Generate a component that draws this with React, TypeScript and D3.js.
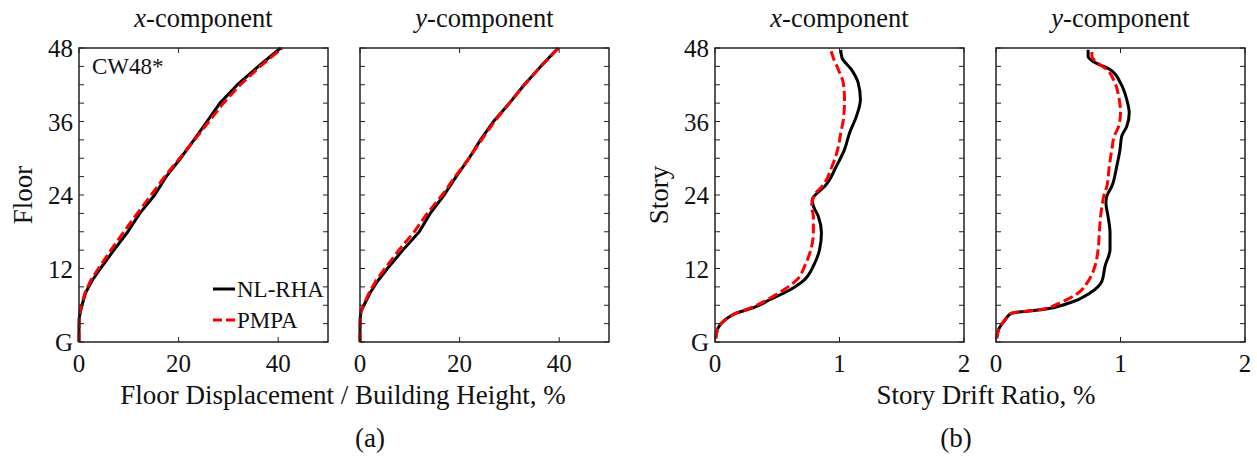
import * as d3 from 'd3';

// (a) floor displacement / building height, %
const floorsDispX = [0, 2, 4, 5, 6, 8, 10, 12, 15, 18, 21, 24, 27, 30, 33, 36, 39, 42, 45, 48];
const dispX_nlrha = [0, 0, 0.05, 0.3, 0.6, 1.3, 2.6, 4.3, 7.0, 9.8, 12.2, 15.2, 17.5, 20.4, 23.1, 25.7, 28.3, 31.8, 36.0, 40.5];
const dispX_pmpa = [0, 0, 0.05, 0.2, 0.5, 1.2, 2.3, 3.9, 6.4, 9.0, 11.7, 14.5, 17.2, 20.2, 23.2, 26.1, 29.0, 32.4, 36.4, 40.8];

const floorsDispY = [0, 2, 4, 5, 6, 8, 10, 12, 15, 18, 21, 24, 27, 30, 33, 36, 39, 42, 45, 48];
const dispY_nlrha = [0, 0, 0.05, 0.2, 0.8, 2.0, 3.6, 5.5, 8.6, 11.9, 14.1, 16.9, 19.3, 21.9, 24.2, 26.8, 30.0, 33.0, 36.3, 39.8];
const dispY_pmpa = [0, 0, 0.05, 0.2, 0.7, 1.8, 3.2, 5.0, 7.8, 10.9, 13.5, 16.5, 19.1, 21.9, 24.4, 27.0, 30.0, 33.0, 36.3, 39.9];

// (b) story drift ratio, %
const storiesDriftX = [0.6, 2.3, 3.6, 4.7, 5.6, 6.9, 8.5, 10.2, 12.4, 15.1, 17.8, 20.5, 22.2, 23.2, 24.1, 25.4, 28.7, 31.4, 34.1, 36.8, 39.6, 42.3, 44.5, 46.4, 47.7];
const driftX_nlrha = [0.006, 0.025, 0.08, 0.17, 0.31, 0.44, 0.6, 0.72, 0.79, 0.84, 0.855, 0.83, 0.79, 0.78, 0.81, 0.88, 0.975, 1.04, 1.08, 1.135, 1.168, 1.15, 1.095, 1.02, 1.01];
const driftX_pmpa = [0.006, 0.025, 0.08, 0.17, 0.29, 0.42, 0.55, 0.66, 0.72, 0.77, 0.79, 0.79, 0.775, 0.785, 0.8, 0.86, 0.94, 0.985, 1.01, 1.034, 1.04, 1.03, 0.99, 0.95, 0.93];

const storiesDriftY = [0.6, 2.3, 3.6, 4.7, 5.3, 6.4, 8.0, 9.9, 12.4, 15.1, 17.8, 20.5, 22.7, 23.8, 25.4, 28.7, 31.4, 33.6, 35.2, 37.4, 39.6, 42.3, 44.5, 45.8, 46.6, 47.7];
const driftY_nlrha = [0.005, 0.027, 0.072, 0.126, 0.38, 0.594, 0.755, 0.85, 0.876, 0.916, 0.916, 0.9, 0.883, 0.89, 0.93, 0.97, 0.996, 1.01, 1.05, 1.07, 1.05, 1.0, 0.916, 0.78, 0.74, 0.74];
const driftY_pmpa = [0.005, 0.027, 0.072, 0.126, 0.36, 0.514, 0.66, 0.74, 0.795, 0.82, 0.83, 0.84, 0.855, 0.865, 0.89, 0.91, 0.93, 0.95, 0.985, 1.0, 0.99, 0.955, 0.89, 0.8, 0.77, 0.77];

const yTickValues = [0, 12, 24, 36, 48];
const yTickLabels = ['G', '12', '24', '36', '48'];
const dispTicks = [0, 20, 40];
const driftTicks = [0, 1, 2];
const seriesNames = ['NL-RHA', 'PMPA'];

const FONT = '"Liberation Serif", "Times New Roman", serif';
const TOP = 48;
const PW = 249;
const PH = 294;

type Series = { levels: number[]; values: number[]; dashed: boolean };
type PanelDef = {
  left: number;
  xMax: number;
  xTicks: number[];
  comp: string;
  yLabel?: string;
  series: Series[];
  curve: d3.CurveFactory;
};

const panels: PanelDef[] = [
  {
    left: 79, xMax: 50, xTicks: dispTicks, comp: 'x', yLabel: 'Floor', curve: d3.curveLinear,
    series: [
      { levels: floorsDispX, values: dispX_nlrha, dashed: false },
      { levels: floorsDispX, values: dispX_pmpa, dashed: true },
    ],
  },
  {
    left: 360, xMax: 50, xTicks: dispTicks, comp: 'y', curve: d3.curveLinear,
    series: [
      { levels: floorsDispY, values: dispY_nlrha, dashed: false },
      { levels: floorsDispY, values: dispY_pmpa, dashed: true },
    ],
  },
  {
    left: 715, xMax: 2, xTicks: driftTicks, comp: 'x', yLabel: 'Story', curve: d3.curveMonotoneY,
    series: [
      { levels: storiesDriftX, values: driftX_nlrha, dashed: false },
      { levels: storiesDriftX, values: driftX_pmpa, dashed: true },
    ],
  },
  {
    left: 996, xMax: 2, xTicks: driftTicks, comp: 'y', curve: d3.curveMonotoneY,
    series: [
      { levels: storiesDriftY, values: driftY_nlrha, dashed: false },
      { levels: storiesDriftY, values: driftY_pmpa, dashed: true },
    ],
  },
];

const Panel = ({ p, showLegend }: { p: PanelDef; showLegend: boolean }) => {
  const x = d3.scaleLinear().domain([0, p.xMax]).range([p.left, p.left + PW]);
  const y = d3.scaleLinear().domain([0, 48]).range([TOP + PH, TOP]);
  const minor = d3.range(0, 49, 3);
  const tl = 5;

  return (
    <g>
      {p.series.map((s, i) => {
        const line = d3
          .line<number>()
          .x((v) => x(v))
          .y((_, j) => y(s.levels[j]))
          .curve(p.curve);
        return (
          <path
            key={i}
            d={line(s.values) ?? ''}
            fill="none"
            stroke={s.dashed ? '#ff0000' : '#000'}
            strokeWidth={3}
            strokeDasharray={s.dashed ? '10,4' : undefined}
            strokeLinejoin="round"
          />
        );
      })}

      <rect x={p.left} y={TOP} width={PW} height={PH} fill="none" stroke="#222" strokeWidth={1.5} />

      {minor.map((v) => (
        <g key={'m' + v} stroke="#222" strokeWidth={1}>
          <line x1={p.left} x2={p.left + tl} y1={y(v)} y2={y(v)} />
          <line x1={p.left + PW} x2={p.left + PW - tl} y1={y(v)} y2={y(v)} />
        </g>
      ))}
      {p.xTicks.map((v) => (
        <g key={'x' + v}>
          <line x1={x(v)} x2={x(v)} y1={TOP + PH} y2={TOP + PH - tl} stroke="#222" strokeWidth={1} />
          <line x1={x(v)} x2={x(v)} y1={TOP} y2={TOP + tl} stroke="#222" strokeWidth={1} />
          <text x={x(v)} y={TOP + PH + 30} textAnchor="middle" fontSize={25}>
            {v}
          </text>
        </g>
      ))}

      {p.yLabel &&
        yTickValues.map((v, i) => (
          <text key={'y' + v} x={p.left - 6} y={y(v) + 9} textAnchor="end" fontSize={25}>
            {yTickLabels[i]}
          </text>
        ))}

      {p.yLabel && (
        <text
          transform={`translate(${p.left - 47},${TOP + PH / 2}) rotate(-90)`}
          textAnchor="middle"
          fontSize={27}
        >
          {p.yLabel}
        </text>
      )}

      <text x={p.left + PW / 2} y={27} textAnchor="middle" fontSize={26.5}>
        <tspan fontStyle="italic">{p.comp}</tspan>-component
      </text>

      {showLegend && (
        <g fontSize={23}>
          <text x={p.left + 13} y={TOP + 26}>CW48*</text>
          {seriesNames.map((n, i) => (
            <g key={n}>
              <line
                x1={p.left + 134}
                x2={p.left + 156}
                y1={289 + i * 31}
                y2={289 + i * 31}
                stroke={i === 0 ? '#000' : '#ff0000'}
                strokeWidth={3}
                strokeDasharray={i === 1 ? '9,4' : undefined}
              />
              <text x={p.left + 158} y={297 + i * 31}>{n}</text>
            </g>
          ))}
        </g>
      )}
    </g>
  );
};

export default function App() {
  return (
    <svg
      width={1257}
      height={456}
      style={{ position: 'absolute', left: 0, top: 0, background: '#fff' }}
      fontFamily={FONT}
      fill="#111"
    >
      {panels.map((p, i) => (
        <Panel key={i} p={p} showLegend={i === 0} />
      ))}
      <text x={343} y={404} textAnchor="middle" fontSize={27}>
        Floor Displacement / Building Height, %
      </text>
      <text x={986} y={404} textAnchor="middle" fontSize={27}>
        Story Drift Ratio, %
      </text>
      <text x={370} y={447} textAnchor="middle" fontSize={27}>(a)</text>
      <text x={956} y={447} textAnchor="middle" fontSize={27}>(b)</text>
    </svg>
  );
}
